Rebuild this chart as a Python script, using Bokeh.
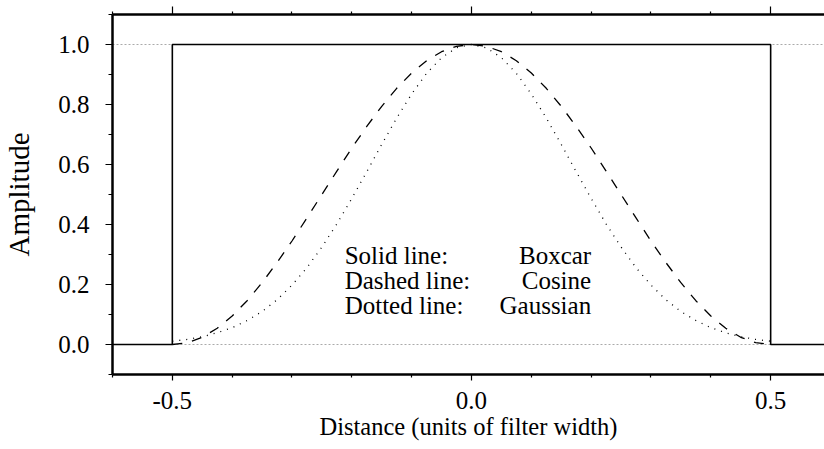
from bokeh.plotting import figure
from bokeh.models import LinearAxis, FixedTicker, NumeralTickFormatter, Span, Range1d, ColumnDataSource
from bokeh.core.properties import value
from bokeh.embed import file_html
from bokeh.resources import INLINE

# ---- data ----
dist = [-0.5, -0.475, -0.45, -0.425, -0.4, -0.375, -0.35, -0.325, -0.3, -0.275,
        -0.25, -0.225, -0.2, -0.175, -0.15, -0.125, -0.1, -0.075, -0.05, -0.025,
        0.0, 0.025, 0.05, 0.075, 0.1, 0.125, 0.15, 0.175, 0.2, 0.225,
        0.25, 0.275, 0.3, 0.325, 0.35, 0.375, 0.4, 0.425, 0.45, 0.475, 0.5]
cosine = [0.000, 0.006, 0.024, 0.054, 0.095, 0.146, 0.206, 0.273, 0.345, 0.422,
          0.500, 0.578, 0.655, 0.727, 0.794, 0.854, 0.905, 0.946, 0.976, 0.994,
          1.000, 0.994, 0.976, 0.946, 0.905, 0.854, 0.794, 0.727, 0.655, 0.578,
          0.500, 0.422, 0.345, 0.273, 0.206, 0.146, 0.095, 0.054, 0.024, 0.006, 0.000]
gaussian = [0.011, 0.017, 0.026, 0.039, 0.056, 0.080, 0.110, 0.149, 0.198, 0.256,
            0.325, 0.402, 0.487, 0.576, 0.667, 0.755, 0.835, 0.904, 0.956, 0.989,
            1.000, 0.989, 0.956, 0.904, 0.835, 0.755, 0.667, 0.576, 0.487, 0.402,
            0.325, 0.256, 0.198, 0.149, 0.110, 0.080, 0.056, 0.039, 0.026, 0.017, 0.011]
box_x = [-0.6, -0.5, -0.5, 0.5, 0.5, 0.6]
box_y = [0.0, 0.0, 1.0, 1.0, 0.0, 0.0]
ref_levels = [0.0, 1.0]

x_major = [-0.5, 0.0, 0.5]
x_minor = [-0.6, -0.4, -0.3, -0.2, -0.1, 0.1, 0.2, 0.3, 0.4, 0.6]
y_major = [0.0, 0.2, 0.4, 0.6, 0.8, 1.0]
y_minor = [-0.1, 0.1, 0.3, 0.5, 0.7, 0.9, 1.1]

legend_left = ["Solid line:", "Dashed line:", "Dotted line:"]
legend_right = ["Boxcar", "Cosine", "Gaussian"]

x_title = "Distance (units of filter width)"
y_title = "Amplitude"

# ---- layout / style ----
FONT = "Liberation Serif"
FS = "25px"
LEG_XL, LEG_XR = -0.212, 0.2
LEG_Y0, LEG_DY = 0.297, 0.0835

p = figure(width=824, height=449, output_backend="svg", toolbar_location=None,
           x_range=Range1d(-0.6, 0.59), y_range=Range1d(-0.1, 1.1),
           x_axis_location=None, y_axis_location=None,
           min_border_left=110, min_border_right=0, min_border_top=14, min_border_bottom=75)
p.outline_line_color = None
p.grid.visible = False
p.background_fill_color = "white"
p.border_fill_color = "white"


def style_axis(ax, major_out, minor_out):
    ax.axis_line_width = 2.5
    ax.axis_line_color = "black"
    ax.major_tick_line_color = "black"
    ax.minor_tick_line_color = "black"
    ax.major_tick_line_width = 1.2
    ax.minor_tick_line_width = 1.2
    ax.major_tick_in = 0
    ax.minor_tick_in = 0
    ax.major_tick_out = major_out
    ax.minor_tick_out = minor_out
    ax.major_label_text_font = FONT
    ax.major_label_text_font_size = FS
    ax.major_label_text_color = "black"
    ax.axis_label_text_font = FONT
    ax.axis_label_text_font_size = "24.5px"
    ax.axis_label_text_font_style = "normal"
    ax.axis_label_text_color = "black"


xt = FixedTicker(ticks=x_major, minor_ticks=x_minor)
yt = FixedTicker(ticks=y_major, minor_ticks=y_minor)

bottom = LinearAxis(ticker=xt, formatter=NumeralTickFormatter(format="0.0"), axis_label=x_title)
style_axis(bottom, 6, 3)
bottom.major_label_standoff = 11
bottom.axis_label_standoff = 1
p.add_layout(bottom, "below")

top = LinearAxis(ticker=FixedTicker(ticks=x_major, minor_ticks=x_minor))
style_axis(top, 8, 3)
top.major_label_text_font_size = "0px"
top.major_label_standoff = 0
top.major_label_text_alpha = 0
p.add_layout(top, "above")

left = LinearAxis(ticker=yt, formatter=NumeralTickFormatter(format="0.0"), axis_label=y_title)
style_axis(left, 7, 4)
left.major_label_standoff = 16
left.axis_label_standoff = 20
left.axis_label_text_font_size = "29px"
p.add_layout(left, "left")

for lvl in ref_levels:
    p.add_layout(Span(location=lvl, dimension="width", line_color="#aaaaaa",
                      line_width=1, line_dash="2 2", level="underlay"))

p.line(box_x, box_y, line_color="black", line_width=1.6)
p.line(dist, cosine, line_color="black", line_width=1.3, line_dash="10 10")
p.line(dist, gaussian, line_color="black", line_width=1.3, line_dash="1 6")

leg_y = [LEG_Y0 - i * LEG_DY for i in range(len(legend_left))]
src = ColumnDataSource(dict(y=leg_y, left=legend_left, right=legend_right,
                            xl=[LEG_XL] * len(leg_y), xr=[LEG_XR] * len(leg_y)))
p.text(x="xl", y="y", text="left", source=src, text_font=value(FONT), text_font_size="25px",
       text_align="left", text_baseline="middle", text_color="black")
p.text(x="xr", y="y", text="right", source=src, text_font=value(FONT), text_font_size="25px",
       text_align="right", text_baseline="middle", text_color="black")

open("out.html", "w").write(file_html(p, INLINE))
